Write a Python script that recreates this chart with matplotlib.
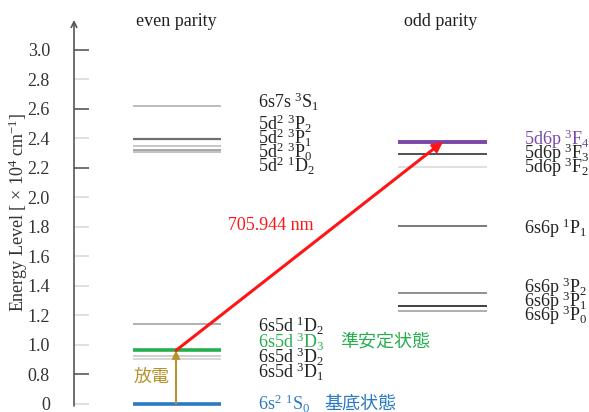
import matplotlib
matplotlib.use('Agg')
import matplotlib.pyplot as plt
import numpy as np

# Ba energy levels, in units of 10^4 cm^-1
even_labels = ['6s$^2$ $^1$S$_0$', '6s5d $^3$D$_1$', '6s5d $^3$D$_2$', '6s5d $^3$D$_3$',
               '6s5d $^1$D$_2$', '5d$^2$ $^1$D$_2$', '5d$^2$ $^3$P$_0$', '5d$^2$ $^3$P$_1$',
               '5d$^2$ $^3$P$_2$', '6s7s $^3$S$_1$']
even_energy = [0.0, 0.9034, 0.9216, 0.9597, 1.1395, 2.3062, 2.3209, 2.3480, 2.3919, 2.6160]

odd_labels = ['6s6p $^3$P$_0$', '6s6p $^3$P$_1$', '6s6p $^3$P$_2$', '6s6p $^1$P$_1$',
              '5d6p $^3$F$_2$', '5d6p $^3$F$_3$', '5d6p $^3$F$_4$']
odd_energy = [1.2266, 1.2637, 1.3515, 1.8060, 2.2065, 2.2947, 2.3757]

y_ticks = [0, 0.8, 1.0, 1.2, 1.4, 1.6, 1.8, 2.0, 2.2, 2.4, 2.6, 2.8, 3.0]
y_tick_labels = ['0', '0.8', '1.0', '1.2', '1.4', '1.6', '1.8', '2.0', '2.2', '2.4', '2.6', '2.8', '3.0']
dark_ticks = [0.8, 2.2, 2.6, 3.0]

# styles
even_colors = ['#2a7ac4', '#cccccc', '#c4c4c4', '#27ae4f', '#9a9a9a',
               '#b0b0b0', '#909090', '#b8b8b8', '#707070', '#aaaaaa']
even_lw = [2.6, 1.1, 1.1, 2.6, 1.1, 1.1, 1.1, 1.1, 1.6, 1.1]
odd_colors = ['#a8a8a8', '#333333', '#888888', '#555555', '#dddddd', '#222222', '#7a48a8']
odd_lw = [1.3, 1.3, 1.3, 1.1, 1.3, 1.1, 2.8]
even_text_colors = ['#2a7ac4', '#222222', '#222222', '#27ae4f'] + ['#222222'] * 6
odd_text_colors = ['#222222'] * 6 + ['#7a48a8']
# label baselines (pixels from top)
even_label_px = [410, 378, 363, 348, 332, 172, 158, 144, 130, 108]
odd_label_px = [321, 307, 293, 234, 173, 159, 145]

plt.rcParams['font.family'] = ['Liberation Serif', 'Noto Sans CJK JP']
plt.rcParams['mathtext.fontset'] = 'custom'
plt.rcParams['mathtext.rm'] = 'Liberation Serif'
plt.rcParams['mathtext.it'] = 'Liberation Serif:italic'

W, H = 589, 412
fig = plt.figure(figsize=(W / 100, H / 100), dpi=100)
ax = fig.add_axes([74 / W, 0, (W - 74) / W, 1])
ax.patch.set_alpha(0)


def fwd(v):
    v = np.asarray(v, dtype=float)
    return np.where(v >= 0.8, v, 0.6 + v * 0.25)


def inv(y):
    y = np.asarray(y, dtype=float)
    return np.where(y >= 0.8, y, (y - 0.6) * 4)


ax.set_yscale('function', functions=(fwd, inv))
ax.set_xlim(74, W)
ax.set_ylim(-0.2305, 3.3356)
for s in ax.spines.values():
    s.set_visible(False)
ax.set_xticks([])
ax.set_yticks(y_ticks)
ax.set_yticklabels(y_tick_labels)
ax.yaxis.set_minor_locator(matplotlib.ticker.NullLocator())
ax.tick_params(axis='y', length=0, pad=24 * 0.72, labelsize=13, labelcolor='#333333')

# tick marks drawn inward, alternating shades
tick_cols = ['#666666' if v in dark_ticks else '#dddddd' for v in y_ticks]
ax.hlines(y_ticks, 74, 89, colors=tick_cols, lw=1.3)

# vertical axis with arrow
ax.annotate('', xy=(74, H - 20), xytext=(74, H - 406), xycoords='figure pixels',
            textcoords='figure pixels',
            arrowprops=dict(arrowstyle='->', color='#555555', lw=1.2,
                            shrinkA=0, shrinkB=0, mutation_scale=10))

# levels
for e, c, lw in zip(even_energy, even_colors, even_lw):
    ax.plot([133, 221], [e, e], color=c, lw=lw, solid_capstyle='butt')
for e, c, lw in zip(odd_energy, odd_colors, odd_lw):
    ax.plot([398, 487], [e, e], color=c, lw=lw, solid_capstyle='butt')


def fp(x, y):
    return x / W, 1 - y / H


for lab, py, c in zip(even_labels, even_label_px, even_text_colors):
    fig.text(*fp(258, py), lab, fontsize=13, color=c, va='baseline', ha='left')
for lab, py, c in zip(odd_labels, odd_label_px, odd_text_colors):
    fig.text(*fp(524, py), lab, fontsize=13, color=c, va='baseline', ha='left')

fig.text(*fp(176, 21), 'even parity', fontsize=13, color='#222222', ha='center', va='center')
fig.text(*fp(441, 21), 'odd parity', fontsize=13, color='#222222', ha='center', va='center')

# transitions
ax.annotate('', xy=(176, even_energy[3]), xytext=(176, even_energy[0]),
            arrowprops=dict(arrowstyle='-|>', color='#b8922e', lw=1.5,
                            shrinkA=0, shrinkB=0, mutation_scale=11))
ax.annotate('', xy=(443, odd_energy[6]), xytext=(176, even_energy[3]),
            arrowprops=dict(arrowstyle='-|>', color='#ff1515', lw=2.2,
                            shrinkA=0, shrinkB=0, mutation_scale=14))

fig.text(*fp(271, 225), '705.944 nm', fontsize=13, color='#ff1515', ha='center', va='center')
fig.text(*fp(152, 377), '放電', fontsize=13, color='#b8922e', ha='center', va='center',
         family='Noto Sans CJK JP')
fig.text(*fp(340, 342), '準安定状態', fontsize=13, color='#27ae4f', ha='left', va='center',
         family='Noto Sans CJK JP')
fig.text(*fp(324, 404), '基底状態', fontsize=13, color='#2a7ac4', ha='left', va='center',
         family='Noto Sans CJK JP')

fig.text(*fp(18, 212), 'Energy Level [ × 10$^4$ cm$^{-1}$]', fontsize=13, color='#333333',
         rotation=90, ha='center', va='center')

fig.savefig('out.png', dpi=100)
